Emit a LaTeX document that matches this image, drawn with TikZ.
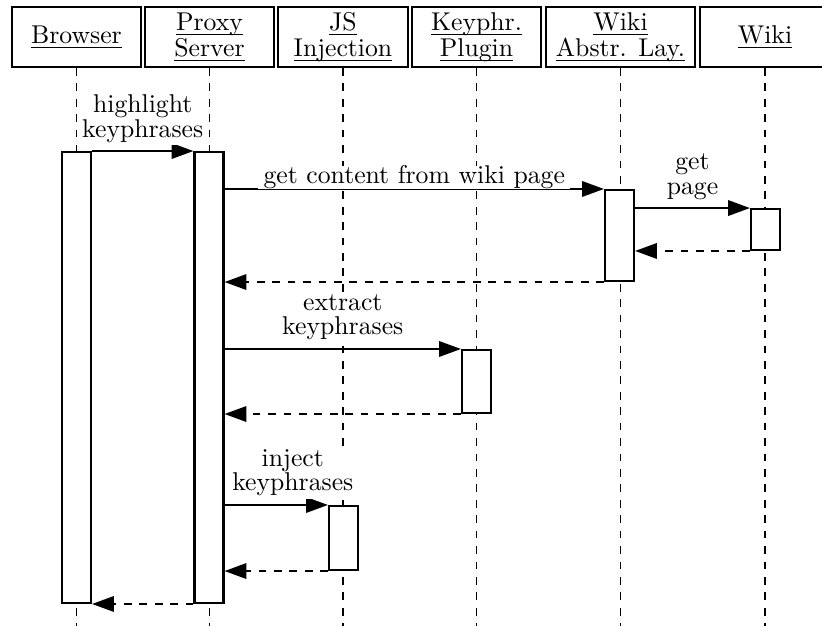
\documentclass[tikz,border=0pt]{standalone}
\usetikzlibrary{arrows.meta}
\newcommand{\undl}[1]{\setbox0\hbox{#1}\rlap{\rule[-1.8pt]{\wd0}{0.4pt}}\box0}
\begin{document}
\begin{tikzpicture}[x=0.389pt,y=-0.389pt,
  head/.style={draw,thick,minimum width=50.2pt,minimum height=23.3pt,inner sep=0pt,
    align=center,font=\fontsize{10}{10.2}\selectfont},
  bar/.style={draw,thick,fill=white,minimum width=11.3pt,inner sep=0pt},
  lifeline/.style={line width=0.75pt,dashed},
  call/.style={thick,-{Triangle[length=8.5pt,width=6pt]}},
  reply/.style={call,dashed},
  msg/.style={fill=white,inner sep=1pt,align=center,font=\fontsize{10}{9.7}\selectfont}]
  \useasboundingbox (0,0) rectangle (822,626);
  \coordinate (bottom) at (0,626);
  % participants
  \node[head] (browser) at (76.5,37) {\undl{Browser}};
  \node[head] (proxy) at (209.5,37) {\undl{Proxy}\\\undl{Server}};
  \node[head,minimum width=50.6pt] (js) at (343,37) {\undl{JS}\\\undl{Injection}};
  \node[head] (plugin) at (476.5,37) {\undl{Keyphr.}\\\undl{Plugin}};
  \node[head,minimum width=58pt] (wal) at (620.5,37) {\undl{Wiki}\\\undl{Abstr. Lay.}};
  \node[head,minimum width=50.6pt] (wiki) at (765,37) {\undl{Wiki}};
  \foreach \p in {browser,proxy,js,plugin,wal,wiki}
    \draw[lifeline] (\p.south) -- (\p.south |- bottom);
  % activations
  \node[bar,minimum height=175.4pt] (browserbar) at (76.5,377.5) {};
  \node[bar,minimum height=175.4pt] (proxybar) at (209,377.5) {};
  \node[bar,minimum height=35.4pt] (walbar) at (619.5,235.5) {};
  \node[bar,minimum height=15.9pt] (wikibar) at (765.5,229.5) {};
  \node[bar,minimum height=24.5pt] (pluginbar) at (476.5,381.5) {};
  \node[bar,minimum height=24.9pt] (jsbar) at (343.5,538) {};
  % messages
  \draw[call] (browserbar.north east) -- node[msg,above=2pt] (m1) {highlight\\keyphrases} (proxybar.north west);
  \draw[call] (proxybar.east |- walbar.north) -- node[msg,above=0pt,outer sep=0pt,inner ysep=0pt,inner xsep=2pt] (m2) {get content from wiki page} (walbar.north west);
  \draw[call] (walbar.east |- wikibar.north) -- node[msg,above=2pt] (m3) {get\\page} (wikibar.north west);
  \draw[reply] (wikibar.south west) -- (walbar.east |- wikibar.south);
  \draw[reply] (walbar.south west) -- (proxybar.east |- walbar.south);
  \draw[call] (proxybar.east |- pluginbar.north) -- node[msg,above=2pt] (m4) {extract\\keyphrases} (pluginbar.north west);
  \draw[reply] (pluginbar.south west) -- (proxybar.east |- pluginbar.south);
  \draw[call] (proxybar.east |- jsbar.north) -- node[msg,above=2pt,pos=0.66] (m5) {inject\\keyphrases} (jsbar.north west);
  \draw[reply] (jsbar.south west) -- (proxybar.east |- jsbar.south);
  \draw[reply] (proxybar.south west) -- (browserbar.south east);
\end{tikzpicture}
\end{document}
